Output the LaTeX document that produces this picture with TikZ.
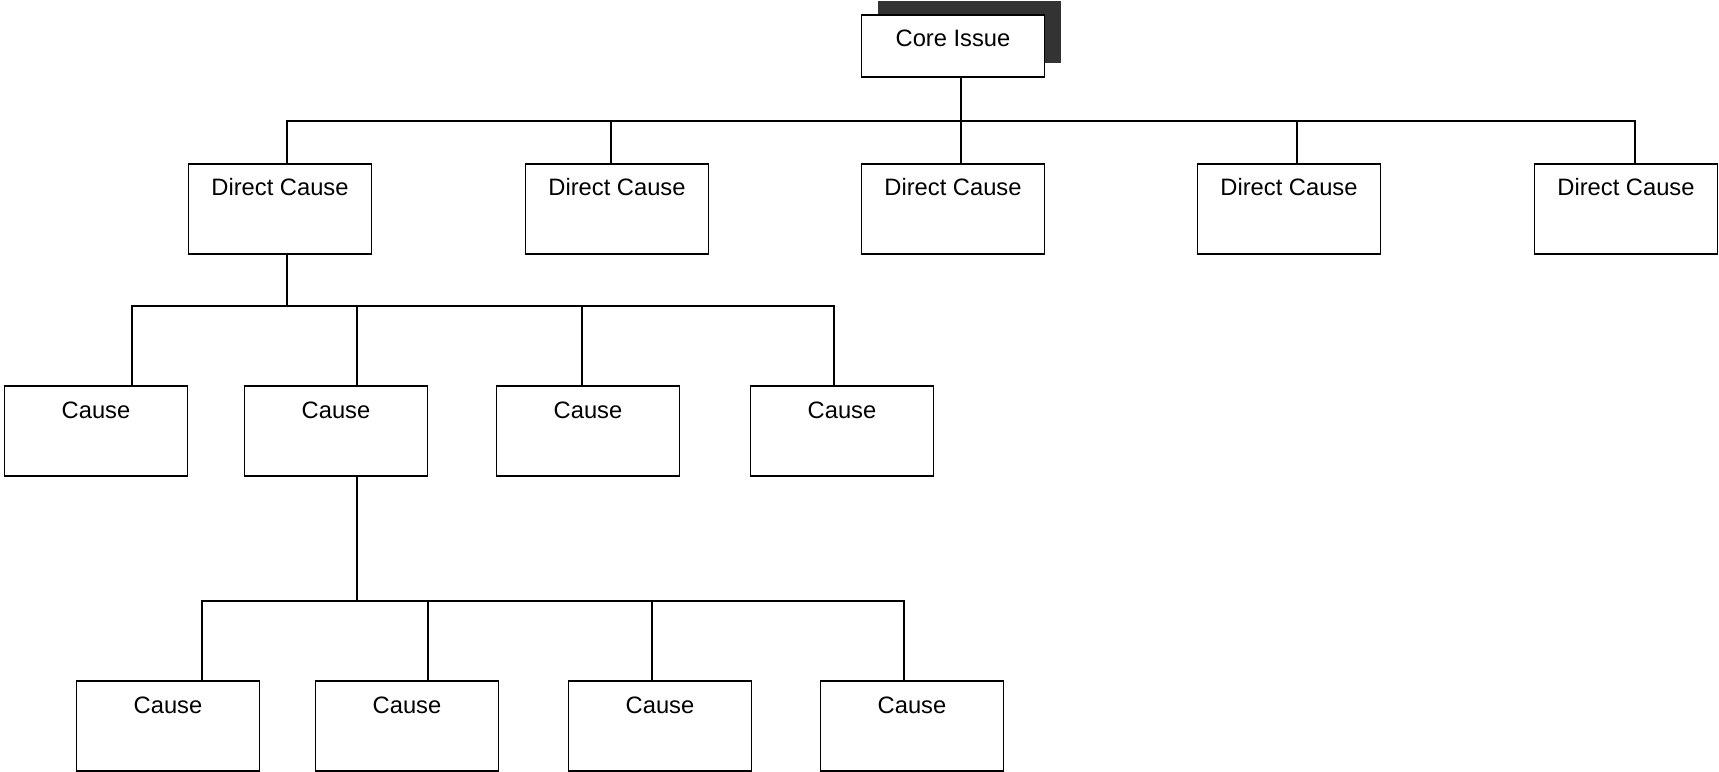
\documentclass[tikz,border=0pt]{standalone}
\usepackage{fontspec}
\setmainfont{Liberation Sans}
\usetikzlibrary{shadows}
\begin{document}
\begin{tikzpicture}[x=0.2mm, y=-0.2mm, line width=1.1pt, line cap=rect,
	box/.style={rectangle, draw=black, fill=white, inner xsep=0pt, inner ysep=0pt, minimum width=36.6mm, text height=6.4mm, text depth=11.6mm, font=\fontsize{13.5}{16}\selectfont},
	corebox/.style={box, text depth=6mm, drop shadow={shadow xshift=3.2mm, shadow yshift=2.8mm, fill=black!80, opacity=1}}]
			\useasboundingbox (0,0) rectangle (1719,772);
			\node[corebox](core) at (953,46){Core Issue};
			\node[box](dc1) at (280,209){Direct Cause};
			\node[box](dc2) at (617,209){Direct Cause};
			\node[box](dc3) at (953,209){Direct Cause};
			\node[box](dc4) at (1289,209){Direct Cause};
			\node[box](dc5) at (1626,209){Direct Cause};
			\node[box](c1) at (96,431){Cause};
			\node[box](c2) at (336,431){Cause};
			\node[box](c3) at (588,431){Cause};
			\node[box](c4) at (842,431){Cause};
			\node[box](d1) at (168,726){Cause};
			\node[box](d2) at (407,726){Cause};
			\node[box](d3) at (660,726){Cause};
			\node[box](d4) at (912,726){Cause};
			\coordinate (t1) at (287,121);
			\coordinate (t2) at (611,121);
			\coordinate (t3) at (961,121);
			\coordinate (t4) at (1297,121);
			\coordinate (t5) at (1635,121);
			\coordinate (u1) at (132,306);
			\coordinate (u2) at (357,306);
			\coordinate (u3) at (582,306);
			\coordinate (u4) at (834,306);
			\coordinate (v1) at (202,601);
			\coordinate (v2) at (428,601);
			\coordinate (v3) at (652,601);
			\coordinate (v4) at (904,601);
			\draw (t3 |- core.south) -- (t3);
			\draw (t1) -- (t5);
			\foreach \i in {1,...,5}
				\draw (t\i) -- (t\i |- dc\i.north);
			\draw (t1 |- dc1.south) -- (t1 |- u1);
			\draw (u1) -- (u4);
			\foreach \i in {1,...,4}
				\draw (u\i) -- (u\i |- c\i.north);
			\draw (u2 |- c2.south) -- (u2 |- v1);
			\draw (v1) -- (v4);
			\foreach \i in {1,...,4}
				\draw (v\i) -- (v\i |- d\i.north);
			\end{tikzpicture}
\end{document}
